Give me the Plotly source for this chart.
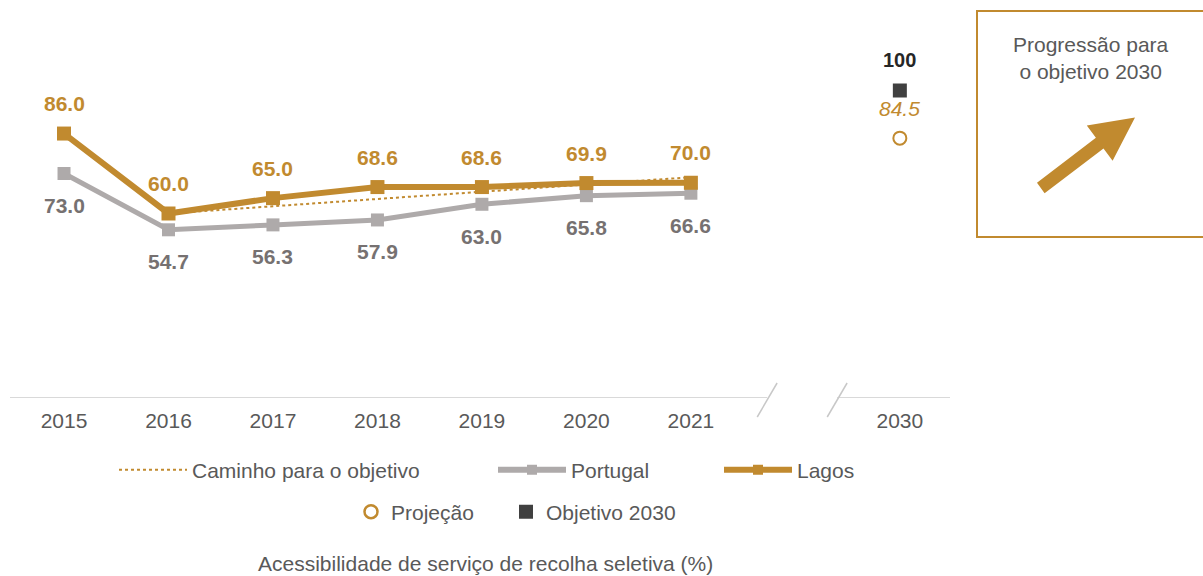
import plotly.graph_objects as go

# data
years = ["2015", "2016", "2017", "2018", "2019", "2020", "2021"]
target_year = "2030"
lagos = [86.0, 60.0, 65.0, 68.6, 68.6, 69.9, 70.0]
portugal = [73.0, 54.7, 56.3, 57.9, 63.0, 65.8, 66.6]
path_years = ["2016", "2017", "2018", "2019", "2020", "2021"]
path_values = [60.0, 62.4, 64.7, 67.1, 69.4, 71.8]
projection = 84.5
objective = 100

GOLD = "#C18A2F"
GREY = "#AEAAAA"
GREY_TXT = "#767171"
TXT = "#595959"
FONT = "Liberation Sans, Arial, sans-serif"
FS = 21

# x positions: one empty slot between 2021 and 2030 for the axis break
pos = {y: i for i, y in enumerate(years)}
pos[target_year] = len(years) + 1

# plot area in pixels
W, H = 1203, 576
L, R, T, B = 10, 253, 29, 178
PW, PH = W - L - R, H - T - B


def px(x):
    return (x - L) / PW


def py(y):
    return (H - B - y) / PH


fig = go.Figure()

fig.add_trace(go.Scatter(
    x=[pos[y] for y in path_years], y=path_values, mode="lines",
    line=dict(color=GOLD, width=2, dash="dot"), showlegend=False))
fig.add_trace(go.Scatter(
    x=[pos[y] for y in years], y=portugal, mode="lines+markers",
    line=dict(color=GREY, width=5),
    marker=dict(symbol="square", size=13, color=GREY), showlegend=False))
fig.add_trace(go.Scatter(
    x=[pos[y] for y in years], y=lagos, mode="lines+markers",
    line=dict(color=GOLD, width=6),
    marker=dict(symbol="square", size=14, color=GOLD), showlegend=False))
fig.add_trace(go.Scatter(
    x=[pos[target_year]], y=[projection], mode="markers",
    marker=dict(symbol="circle-open", size=13, color=GOLD, line=dict(width=2)),
    showlegend=False))
fig.add_trace(go.Scatter(
    x=[pos[target_year]], y=[objective], mode="markers",
    marker=dict(symbol="square", size=14, color="#404040"), showlegend=False))

# legend entries (one legend box each so they sit where the original has them)
legend_items = [
    ("Caminho para o objetivo", "lines", dict(color=GOLD, width=2, dash="dot"), None),
    ("Portugal", "lines+markers", dict(color=GREY, width=6), dict(symbol="square", size=10, color=GREY)),
    ("Lagos", "lines+markers", dict(color=GOLD, width=6), dict(symbol="square", size=10, color=GOLD)),
    ("Projeção", "markers", None, dict(symbol="circle-open", size=13, color=GOLD, line=dict(width=2.5))),
    ("Objetivo 2030", "markers", None, dict(symbol="square", size=14, color="#404040")),
]
for i, (name, mode, line, marker) in enumerate(legend_items):
    fig.add_trace(go.Scatter(x=[None], y=[None], mode=mode, name=name,
                             line=line, marker=marker,
                             legend="legend" if i == 0 else f"legend{i + 1}"))

# value labels
for y, v in zip(years, lagos):
    fig.add_annotation(x=pos[y], y=v, text=f"{v:.1f}", showarrow=False, yshift=30,
                       font=dict(family=FONT, size=FS, color=GOLD, weight="bold"))
for y, v in zip(years, portugal):
    fig.add_annotation(x=pos[y], y=v, text=f"{v:.1f}", showarrow=False, yshift=-32,
                       font=dict(family=FONT, size=FS, color=GREY_TXT, weight="bold"))
fig.add_annotation(x=pos[target_year], y=projection, text=f"{projection:.1f}", showarrow=False,
                   yshift=30, font=dict(family=FONT, size=FS, color=GOLD, style="italic"))
fig.add_annotation(x=pos[target_year], y=objective, text=f"{objective}", showarrow=False,
                   yshift=31, font=dict(family=FONT, size=20, color="#262626", weight="bold"))

# broken axis line
b1, b2 = len(years) - 0.27, len(years) + 0.40
axis_c = "#D9D9D9"
fig.add_shape(type="line", x0=-0.6, x1=b1, y0=0, y1=0, line=dict(color=axis_c, width=2))
fig.add_shape(type="line", x0=b2, x1=pos[target_year] + 0.6, y0=0, y1=0,
              line=dict(color=axis_c, width=2))
for bx in (b1, b2):
    fig.add_shape(type="line", xref="x", yref="paper",
                  x0=bx - 0.095, x1=bx + 0.095, y0=py(417), y1=py(383),
                  line=dict(color="#C8C8C8", width=1.5))

# right box with arrow
fig.add_shape(type="rect", xref="paper", yref="paper",
              x0=px(977), x1=px(1215), y0=py(237), y1=py(11),
              line=dict(color=GOLD, width=2), fillcolor="rgba(0,0,0,0)")
fig.add_annotation(xref="paper", yref="paper", x=px(1091), y=py(58),
                   xanchor="center", yanchor="middle",
                   text="Progressão para<br>o objetivo 2030", showarrow=False,
                   font=dict(family=FONT, size=FS, color=TXT))
arrow = [(1037, 182.7), (1095.9, 137.8), (1086.8, 125.4), (1135, 117.5),
         (1112.6, 160.8), (1103.5, 148.4), (1044.6, 193.3)]
path = "M " + " L ".join(f"{px(a):.5f},{py(b):.5f}" for a, b in arrow) + " Z"
fig.add_shape(type="path", xref="paper", yref="paper", path=path,
              fillcolor=GOLD, line=dict(width=0))

# caption under legend
fig.add_annotation(xref="paper", yref="paper", x=px(486), y=py(563),
                   xanchor="center", yanchor="middle",
                   text="Acessibilidade de serviço de recolha seletiva (%)", showarrow=False,
                   font=dict(family=FONT, size=FS, color=TXT))

leg = dict(orientation="h", xanchor="left", yanchor="middle", itemwidth=68,
           font=dict(size=FS, color=TXT), bgcolor="rgba(0,0,0,0)")
leg_m = dict(leg, itemwidth=30)
fig.update_layout(
    width=W, height=H,
    margin=dict(l=L, r=R, t=T, b=B, autoexpand=False),
    plot_bgcolor="white", paper_bgcolor="white",
    font=dict(family=FONT, size=FS, color=TXT),
    xaxis=dict(range=[-0.517, pos[target_year] + 0.48],
               tickvals=[pos[y] for y in years] + [pos[target_year]],
               ticktext=years + [target_year],
               showgrid=False, zeroline=False, showline=False, ticks="",
               ticklabelstandoff=8, tickfont=dict(size=FS, color=TXT)),
    yaxis=dict(range=[0, 120], visible=False),
    legend=dict(leg, x=px(114), y=py(470)),
    legend2=dict(leg, x=px(493), y=py(470)),
    legend3=dict(leg, x=px(719), y=py(470)),
    legend4=dict(leg_m, x=px(351), y=py(512)),
    legend5=dict(leg_m, x=px(506), y=py(512)),
    showlegend=True,
)

fig.write_html("out.html", config={"displayModeBar": False},
               post_script="document.body.style.margin='0';")
